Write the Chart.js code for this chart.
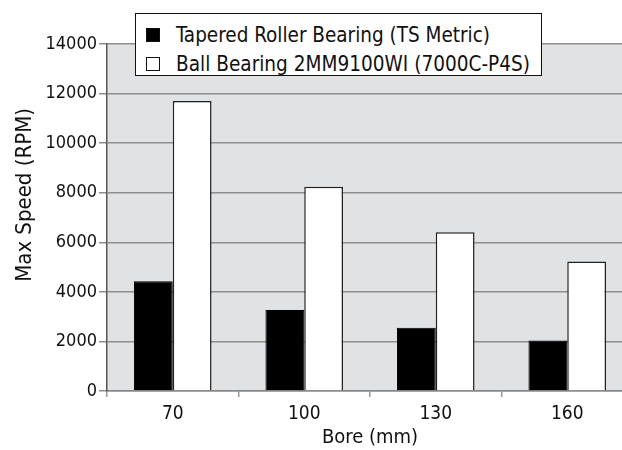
<!DOCTYPE html>
<html>
<head>
<meta charset="utf-8">
<script src="https://cdn.jsdelivr.net/npm/chart.js@4"></script>
<style>
  html, body { margin: 0; padding: 0; background: #fff; overflow: hidden; }
  #wrap { position: relative; width: 640px; height: 450px; }
  #legenda {
    position: absolute; left: 135px; top: 13px; width: 405px; height: 61px;
    background: #fff; border: 1.5px solid #111;
    font-family: 'DejaVu Sans Condensed', sans-serif; font-size: 21px; color: #111;
  }
  #legenda .item { position: absolute; left: 10px; height: 24px; line-height: 24px; white-space: nowrap; }
  #legenda .marca { display: inline-block; width: 12px; height: 12px; border: 1.2px solid #111; margin-right: 16px; vertical-align: 0px; }
  #legenda .texto { display: inline-block; transform-origin: left center; }
</style>
</head>
<body>
<div id="wrap">
  <canvas id="grafico" width="640" height="450"></canvas>
  <div id="legenda"></div>
</div>
<script>
// Dados
const diametros = ['70', '100', '130', '160'];
const rolamentoConico = [4430, 3270, 2550, 2040];
const rolamentoEsferas = [11700, 8240, 6400, 5220];
const nomesSeries = ['Tapered Roller Bearing (TS Metric)', 'Ball Bearing 2MM9100WI (7000C-P4S)'];
const ticksY = [0, 2000, 4000, 6000, 8000, 10000, 12000, 14000];
const tituloY = 'Max Speed (RPM)';

const fonte = "'DejaVu Sans Condensed', sans-serif";
Chart.defaults.font.family = fonte;
Chart.defaults.color = '#111';

// fundo cinza da área do gráfico
const fundoArea = {
  id: 'fundoArea',
  beforeDraw(chart) {
    const { ctx, chartArea: a } = chart;
    ctx.save();
    ctx.fillStyle = '#e1e2e4';
    ctx.fillRect(a.left, a.top, a.right - a.left, a.bottom - a.top);
    ctx.restore();
  }
};

// título do eixo Y, um pouco acima do centro como no original
const tituloEixoY = {
  id: 'tituloEixoY',
  afterDraw(chart) {
    const { ctx, chartArea: a } = chart;
    ctx.save();
    ctx.translate(25, a.top + (a.bottom - a.top) * 0.435);
    ctx.rotate(-Math.PI / 2);
    ctx.font = `22px ${fonte}`;
    ctx.fillStyle = '#111';
    ctx.textAlign = 'center';
    ctx.textBaseline = 'middle';
    ctx.fillText(tituloY, 0, 0);
    ctx.restore();
  }
};

const grafico = new Chart(document.getElementById('grafico'), {
  type: 'bar',
  data: {
    labels: diametros,
    datasets: [
      { label: nomesSeries[0], data: rolamentoConico, backgroundColor: '#000', borderColor: '#000', borderWidth: 1 },
      { label: nomesSeries[1], data: rolamentoEsferas, backgroundColor: '#fff', borderColor: '#222', borderWidth: 1.5 }
    ]
  },
  options: {
    responsive: false,
    animation: false,
    layout: { padding: { top: 44, left: 0, right: 7, bottom: 0 } },
    plugins: { legend: { display: false }, tooltip: { enabled: false } },
    datasets: { bar: { categoryPercentage: 0.59, barPercentage: 1.0 } },
    scales: {
      x: {
        afterFit: s => { s.height = 59; },
        grid: { drawOnChartArea: false, drawTicks: true, tickLength: 6, color: '#999', lineWidth: 1.5 },
        border: { color: '#888', width: 1.5 },
        ticks: { font: { size: 19 }, padding: 6, color: '#111' },
        title: { display: true, text: 'Bore (mm)', font: { size: 20 }, padding: { top: 0, bottom: 0 }, color: '#111' }
      },
      y: {
        min: 0, max: 14000,
        afterFit: s => { s.width = 107; },
        afterBuildTicks: s => { s.ticks = ticksY.map(v => ({ value: v })); },
        grid: { color: '#8e8e8e', lineWidth: 1.5, tickLength: 8 },
        border: { color: '#555', width: 1.5 },
        ticks: { font: { size: 18 }, padding: 2, color: '#111', callback: v => String(v) },
        title: { display: false }
      }
    }
  },
  plugins: [fundoArea, tituloEixoY]
});

// Legenda sobreposta
const legenda = document.getElementById('legenda');
grafico.data.datasets.forEach((ds, i) => {
  const item = document.createElement('div');
  item.className = 'item';
  item.style.top = (9 + i * 29) + 'px';
  item.innerHTML = `<span class="marca" style="background:${ds.backgroundColor}"></span><span class="texto">${ds.label}</span>`;
  legenda.appendChild(item);
});
// texto da legenda comprimido para a largura da fonte condensada original
document.querySelectorAll('#legenda .texto').forEach((el, i) => {
  const alvo = i === 0 ? 314 : 354;
  el.style.transform = `scaleX(${alvo / el.getBoundingClientRect().width})`;
});
</script>
</body>
</html>
